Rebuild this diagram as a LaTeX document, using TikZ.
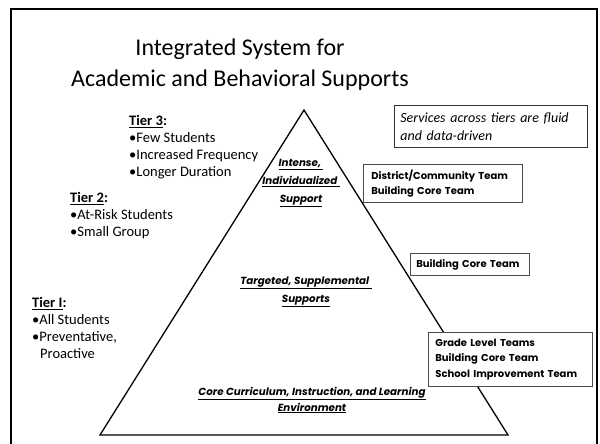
\documentclass[tikz,border=0pt]{standalone}
\usepackage{fontspec}
\setmainfont{Carlito}
\newfontfamily\gothic{Poppins}
\begin{document}
\begin{tikzpicture}[x=1pt,y=-1pt,line join=miter,
  tier/.style={anchor=north west,align=left,inner sep=0pt,font=\fontsize{14.5}{17}\selectfont},
  level/.style={align=center,inner sep=0pt,font=\gothic\bfseries\itshape\fontsize{10.3}{18}\selectfont},
  team/.style={draw=black!70,fill=white,line width=0.8pt,anchor=north west,align=left,inner ysep=0pt,font=\gothic\bfseries\fontsize{10}{15.5}\selectfont}]
  \useasboundingbox (0,0) rectangle (600,444);
  % frame and pyramid
  \draw[line width=2.5pt] (11,446)--(11,9)--(597,9)--(597,446);
  \draw[line width=1.3pt] (100,435)--(304,110)--(508,435)--cycle;
  % title
  \node[align=center,font=\fontsize{24}{31}\selectfont] (title) at (240,65) {Integrated System for\\Academic and Behavioral Supports};
  % tiers
  \node[tier] (tier3) at (129,115) {\textbf{\underline{Tier 3}:}\\\textbullet Few Students\\\textbullet Increased Frequency\\\textbullet Longer Duration};
  \node[tier] (tier2) at (70,192) {\textbf{\underline{Tier 2}:}\\\textbullet At-Risk Students\\\textbullet Small Group};
  \node[tier] (tier1) at (32,297) {\textbf{\underline{Tier I}:}\\\textbullet All Students\\\textbullet Preventative,\\\hspace*{8pt}Proactive};
  % levels of the pyramid
  \node[level] (intense) at (301,183) {\underline{Intense,\ }\\\underline{Individualized\ }\\\underline{Support}};
  \node[level] (targeted) at (306,292) {\underline{Targeted, Supplemental\ }\\\underline{Supports}};
  \node[level,font=\gothic\bfseries\itshape\fontsize{10.3}{16}\selectfont] (core) at (312,400) {\underline{Core Curriculum, Instruction, and Learning}\\\underline{Environment}};
  % teams
  \node[team,draw=black!80,font=\itshape\fontsize{14}{18}\selectfont,minimum width=193pt,minimum height=42pt,text width=181pt,inner xsep=6pt] (fluid) at (394,105) {Services across tiers are fluid\\and data-driven};
  \node[team,minimum width=159pt,minimum height=38pt,text width=143pt,inner xsep=8pt] (district) at (363,164) {District/Community Team\\Building Core Team};
  \node[team,minimum width=119pt,minimum height=22pt,text width=107pt,inner xsep=6pt] (building) at (410,253) {Building Core Team};
  \node[team,minimum width=164pt,minimum height=54pt,text width=150pt,inner xsep=7pt] (grade) at (428,332) {Grade Level Teams\\Building Core Team\\School Improvement Team};
\end{tikzpicture}
\end{document}
